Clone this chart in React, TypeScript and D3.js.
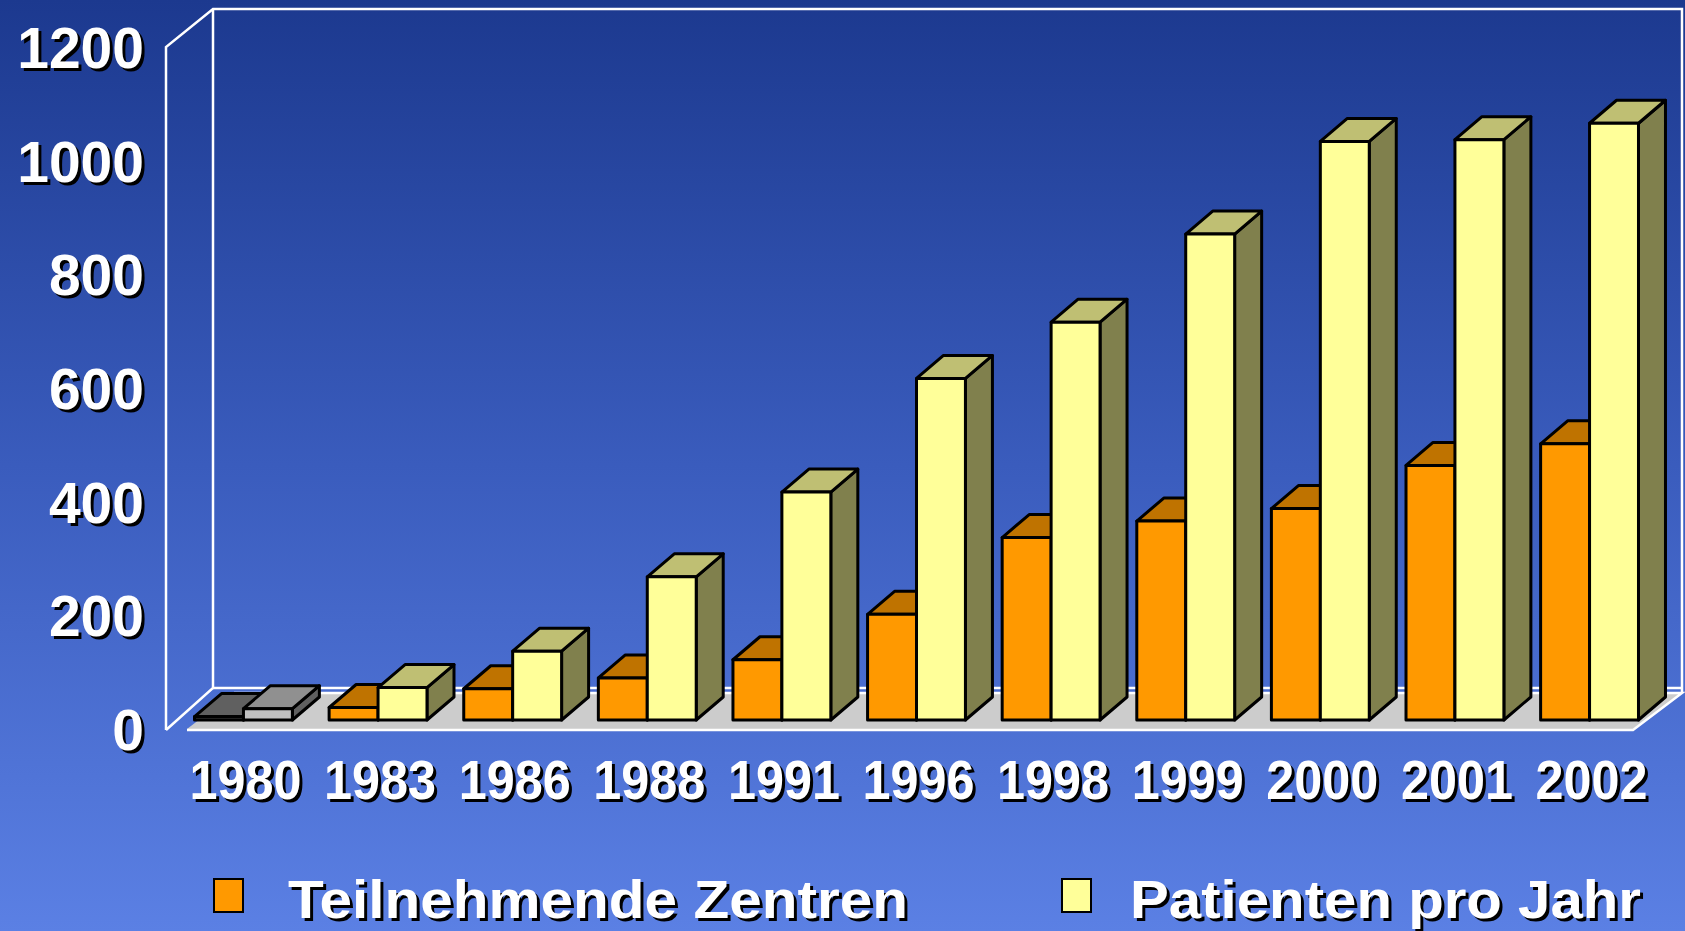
import React from "react";
import { scaleBand, scaleLinear } from "d3";

const years = ["1980", "1983", "1986", "1988", "1991", "1996", "1998", "1999", "2000", "2001", "2002"];
const zentren = [6, 22, 55, 74, 106, 186, 321, 350, 372, 448, 486];
const patienten = [20, 57, 121, 252, 401, 601, 700, 855, 1018, 1021, 1050];
const yTicks = [0, 200, 400, 600, 800, 1000, 1200];
const seriesNames = ["Teilnehmende Zentren", "Patienten pro Jahr"];

const W = 1685;
const H = 931;
const FONT = "'Liberation Sans', Arial, sans-serif";

// colours: front, top, side
const orange = { front: "#ff9900", top: "#bf7300", side: "#805000" };
const yellow = { front: "#ffff99", top: "#bfbf73", side: "#80804d" };
const grayDark = { front: "#404040", top: "#606060", side: "#303030" };
const grayLight = { front: "#c0c0c0", top: "#909090", side: "#606060" };

// depth of a bar
const barDx = 27;
const barDy = -23;

const yFront = scaleLinear().domain([0, 1200]).range([729, 47]);
const yBar = scaleLinear().domain([0, 1200]).range([720, 38]);
const x = scaleBand<string>().domain(years).range([175, 1658]).paddingInner(0.273).paddingOuter(0.145);

const pts = (p: number[][]) => p.map((d) => d.join(",")).join(" ");

const Bar = ({ x0, w, v, c }: { x0: number; w: number; v: number; c: typeof orange }) => {
  const y0 = yBar(0);
  const y1 = yBar(v);
  const x1 = x0 + w;
  const st = { stroke: "#000", strokeWidth: 3, strokeLinejoin: "round" as const };
  return (
    <g>
      <polygon points={pts([[x1, y0], [x1 + barDx, y0 + barDy], [x1 + barDx, y1 + barDy], [x1, y1]])} fill={c.side} {...st} />
      <polygon points={pts([[x0, y1], [x1, y1], [x1 + barDx, y1 + barDy], [x0 + barDx, y1 + barDy]])} fill={c.top} {...st} />
      <rect x={x0} y={y1} width={w} height={y0 - y1} fill={c.front} {...st} />
    </g>
  );
};

const ShadowText = (props: any) => {
  const { children, x: tx, y: ty, ...rest } = props;
  return (
    <g>
      <text x={tx + 3} y={ty + 3} fill="#000" {...rest}>{children}</text>
      <text x={tx} y={ty} fill="#fff" {...rest}>{children}</text>
    </g>
  );
};

const App = () => {
  const bw = x.bandwidth() / 2;
  const wx = 166;
  const wl = 213;
  const wr = 1682;
  const top = 9;
  const base = 688;
  return (
    <svg width={W} height={H} style={{ position: "absolute", left: 0, top: 0, display: "block" }}>
      <defs>
        <linearGradient id="bg" x1="0" y1="0" x2="0" y2="1">
          <stop offset="0" stopColor="#1c398f" />
          <stop offset="0.5" stopColor="#3a5cbd" />
          <stop offset="1" stopColor="#5b80e4" />
        </linearGradient>
      </defs>
      <rect width={W} height={H} fill="url(#bg)" />

      {/* walls */}
      <g fill="none" stroke="#fff" strokeWidth={2.5}>
        <polyline points={pts([[wx, yFront(0) + 1], [wx, yFront(1200)], [wl, top], [wr, top], [wr, 692]])} />
        <polyline points={pts([[wl, top], [wl, base], [wx, yFront(0) + 1]])} />
        <line x1={wl} y1={base} x2={wr} y2={base} />
      </g>

      {/* floor */}
      <polygon points={pts([[187, 729], [1633, 729], [1682, 693], [234, 693]])} fill="#cccccc" />
      <polyline points={pts([[234, 693], [1682, 693], [1633, 730], [187, 730]])} fill="none" stroke="#fff" strokeWidth={2.5} />

      {/* bars */}
      {years.map((yr, i) => {
        const x0 = x(yr) as number;
        const first = i === 0;
        return (
          <g key={yr}>
            <Bar x0={x0} w={bw} v={zentren[i]} c={first ? grayDark : orange} />
            <Bar x0={x0 + bw} w={bw} v={patienten[i]} c={first ? grayLight : yellow} />
          </g>
        );
      })}

      {/* y axis labels */}
      {yTicks.map((t) => (
        <ShadowText key={t} x={144} y={yFront(t) + 21} textAnchor="end" fontFamily={FONT} fontWeight="bold" fontSize={57}>
          {t}
        </ShadowText>
      ))}

      {/* x axis labels */}
      {years.map((yr) => (
        <ShadowText
          key={yr}
          x={(x(yr) as number) + x.bandwidth() / 2 + 2 - 56}
          y={799}
          fontFamily={FONT}
          fontWeight="bold"
          fontSize={56}
          textLength={112}
          lengthAdjust="spacingAndGlyphs"
        >
          {yr}
        </ShadowText>
      ))}

      {/* legend */}
      <rect x={214} y={879} width={29} height={33} fill={orange.front} stroke="#000" strokeWidth={2} />
      <ShadowText x={288} y={918} fontFamily={FONT} fontWeight="bold" fontSize={54} textLength={620} lengthAdjust="spacingAndGlyphs">
        {seriesNames[0]}
      </ShadowText>
      <rect x={1062} y={879} width={29} height={33} fill={yellow.front} stroke="#000" strokeWidth={2} />
      <ShadowText x={1130} y={918} fontFamily={FONT} fontWeight="bold" fontSize={54} textLength={511} lengthAdjust="spacingAndGlyphs">
        {seriesNames[1]}
      </ShadowText>
    </svg>
  );
};

export default App;
